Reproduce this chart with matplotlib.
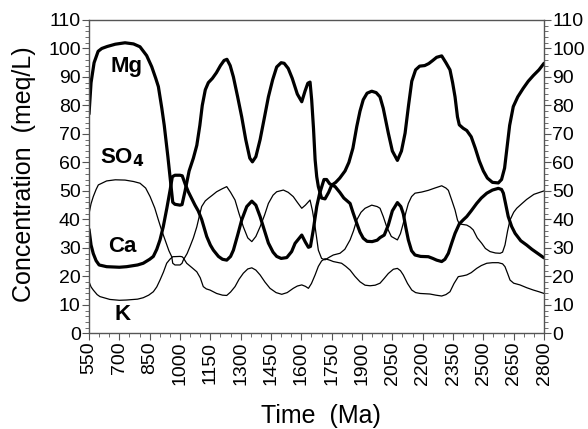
import matplotlib
matplotlib.use("Agg")
import matplotlib.pyplot as plt
from matplotlib.ticker import MultipleLocator

# ─────────────────────────────────────────────────────────────────────────────
#  Data
# ─────────────────────────────────────────────────────────────────────────────

mg_t = [550, 560, 575, 595, 613, 640, 680, 728, 770, 802, 835, 860, 880, 893,
        910, 922, 940, 952, 964, 975, 1000, 1010, 1025, 1045, 1066, 1083, 1098,
        1110, 1125, 1140, 1160, 1180, 1200, 1218, 1232, 1248, 1264, 1285, 1305,
        1325, 1345, 1358, 1375, 1396, 1418, 1437, 1458, 1478, 1500, 1515, 1535,
        1555, 1580, 1602, 1618, 1632, 1643, 1651, 1660, 1668, 1676, 1684, 1700,
        1717, 1735, 1750, 1770, 1790, 1816, 1835, 1855, 1874, 1890, 1906, 1925,
        1948, 1970, 1989, 2005, 2030, 2050, 2075, 2095, 2113, 2130, 2146, 2165,
        2185, 2210, 2230, 2250, 2269, 2294, 2315, 2335, 2348, 2360, 2372, 2381,
        2400, 2418, 2440, 2460, 2480, 2500, 2520, 2545, 2574, 2590, 2605, 2615,
        2630, 2648, 2670, 2697, 2722, 2747, 2775, 2800]
mg = [77, 88, 95, 99, 100, 100.7, 101.5, 102, 101.6, 100.6, 97.5, 93.6, 89.5,
      86.6, 79, 73, 62, 54, 46, 45.3, 45, 45.2, 50, 57, 61.5, 66, 73, 80, 85.5,
      88, 89.5, 91.5, 94, 95.8, 96.2, 94, 90, 83, 76, 68, 61.5, 60.2, 62, 68,
      76, 83, 89, 93.5, 95, 94.8, 93, 89.5, 84, 81.3, 85, 87.8, 88.2, 82, 72,
      61, 55, 51.5, 47.5, 47.2, 49.5, 52, 53, 54.5, 57, 60, 65, 72.6, 78, 82,
      84.3, 85, 84.5, 83, 79, 70.3, 64, 60.7, 64, 70.3, 80, 88.5, 92.5, 93.8,
      94, 94.7, 95.8, 96.9, 97.4, 95, 92.5, 88, 83, 76, 73.2, 72, 71.2, 69, 65,
      60.5, 57, 54.5, 53, 52.8, 54, 58, 64, 73, 79.6, 83, 86, 88.5, 90.5, 92.5,
      94.8]

ca_t = [550, 560, 571, 585, 600, 637, 700, 736, 790, 818, 850, 868, 885, 901,
        917, 935, 951, 962, 975, 1000, 1011, 1025, 1041, 1074, 1090, 1107, 1132,
        1150, 1165, 1190, 1210, 1231, 1250, 1264, 1285, 1305, 1330, 1355, 1375,
        1396, 1418, 1437, 1460, 1478, 1500, 1528, 1552, 1569, 1602, 1620, 1635,
        1645, 1659, 1676, 1690, 1701, 1712, 1725, 1740, 1767, 1790, 1810, 1841,
        1855, 1874, 1890, 1906, 1925, 1950, 1975, 1989, 2010, 2030, 2050, 2075,
        2092, 2104, 2117, 2129, 2145, 2162, 2190, 2228, 2250, 2269, 2294, 2310,
        2327, 2345, 2360, 2381, 2400, 2418, 2440, 2467, 2490, 2517, 2545, 2574,
        2590, 2599, 2610, 2623, 2640, 2657, 2685, 2714, 2740, 2770, 2800]
ca = [36.5, 31, 28, 25.5, 24, 23.4, 23.2, 23.4, 24, 24.6, 26, 27, 29.5, 32.8,
      37.4, 44, 50.3, 55, 55.5, 55.5, 55.3, 52.5, 49.7, 45, 43, 40, 34, 31,
      29.2, 27, 26, 25.7, 27, 29.2, 34.5, 39.8, 44.5, 46.4, 45, 41, 36, 31.7,
      28.5, 27, 26.3, 26.6, 28.7, 31.6, 34.5, 32, 30.2, 30.5, 36.3, 44.5, 49,
      51.5, 54, 54, 52.5, 51.5, 49.5, 47.5, 45.6, 42.5, 38.6, 35.5, 33.4, 32.3,
      32.2, 32.7, 33.6, 34.5, 38, 43, 45.9, 44.5, 42, 37, 32.8, 29, 27.5, 27,
      26.9, 26.3, 25.7, 25.2, 26, 28.1, 32, 35.1, 38.4, 39.8, 41, 43, 45.6,
      47.5, 49.2, 50.3, 50.9, 50.5, 49.2, 45.5, 41, 37.5, 35.1, 32.5, 31, 29.5,
      28, 26.5]

so4_t = [550, 560, 571, 585, 596, 637, 680, 728, 770, 802, 830, 852, 875, 893,
         910, 926, 945, 959, 964, 975, 1000, 1010, 1016, 1035, 1049, 1066, 1083,
         1095, 1107, 1125, 1140, 1160, 1181, 1210, 1231, 1250, 1272, 1292, 1313,
         1335, 1355, 1375, 1396, 1418, 1437, 1460, 1478, 1511, 1535, 1560, 1580,
         1602, 1620, 1643, 1655, 1668, 1684, 1700, 1717, 1740, 1758, 1791, 1815,
         1841, 1858, 1874, 1895, 1915, 1948, 1975, 1989, 2005, 2022, 2045, 2075,
         2090, 2104, 2117, 2129, 2145, 2162, 2195, 2228, 2260, 2294, 2315, 2327,
         2345, 2360, 2372, 2381, 2400, 2418, 2435, 2450, 2470, 2492, 2510, 2533,
         2560, 2583, 2595, 2607, 2620, 2632, 2650, 2665, 2690, 2714, 2750, 2800]
so4 = [42, 45.5, 48, 50.5, 52.1, 53.5, 53.9, 53.8, 53.3, 52.7, 51, 48, 44,
       39.8, 36, 32.8, 29, 26.9, 24.6, 24, 24, 24.6, 25.7, 28, 30.4, 33.5, 37.4,
       41, 44.5, 46.5, 47.4, 48.5, 49.7, 50.8, 51.5, 49.5, 46.8, 42, 37.4, 33.5,
       32.2, 34, 37.4, 41.5, 45.6, 48.5, 49.7, 50.3, 49.5, 48, 46, 43.9, 45,
       46.8, 43, 37.4, 29.2, 26.3, 25.8, 26.8, 27.5, 28.1, 29.5, 32.8, 36, 39.8,
       42.5, 43.9, 45, 44.5, 43.9, 41, 37.4, 34, 32.8, 35, 38.6, 42.5, 45.6, 48,
       49.2, 49.6, 50.2, 51, 51.8, 51, 50.2, 46.5, 43.3, 39.8, 38.4, 38.2, 38,
       37.3, 36.3, 33.5, 31.6, 29.8, 28.7, 28.2, 28.1, 28.5, 31, 36, 39.8, 42.5,
       43.9, 45.5, 47, 48.8, 50]

k_t = [550, 560, 571, 590, 604, 653, 700, 736, 790, 818, 845, 868, 885, 901,
       918, 934, 950, 964, 1000, 1010, 1016, 1033, 1060, 1083, 1100, 1115, 1130,
       1148, 1181, 1210, 1231, 1250, 1272, 1292, 1313, 1335, 1355, 1375, 1396,
       1420, 1445, 1475, 1503, 1530, 1560, 1580, 1602, 1620, 1635, 1650, 1668,
       1684, 1700, 1717, 1740, 1758, 1799, 1820, 1841, 1865, 1890, 1915, 1940,
       1965, 1989, 2010, 2030, 2055, 2075, 2090, 2104, 2125, 2146, 2165, 2187,
       2236, 2265, 2294, 2315, 2335, 2355, 2376, 2400, 2418, 2440, 2467, 2490,
       2517, 2545, 2574, 2595, 2607, 2620, 2632, 2650, 2681, 2715, 2747, 2775,
       2800]
k = [18.1, 16.3, 15.2, 13.6, 12.9, 11.9, 11.6, 11.7, 12, 12.5, 13.4, 14.6,
     16.3, 18.7, 21.5, 24.6, 26, 26.9, 27, 26.9, 26.5, 24.6, 23, 21.6, 19.5,
     16.4, 15.6, 15.2, 14, 13.4, 13.3, 14.5, 16.4, 19, 21.1, 22.6, 23, 22.2,
     20.5, 18, 15.8, 14.3, 13.7, 14.3, 15.8, 16.6, 17, 16.5, 15.8, 17.5, 20.5,
     23.5, 25.4, 26.2, 25.7, 25.2, 24.6, 23.5, 22.2, 20, 18.1, 16.9, 16.7, 16.9,
     17.6, 19.3, 21, 22.5, 22.8, 22, 20.5, 17.5, 15.2, 14.3, 14, 13.8, 13.4,
     13.1, 13.6, 14.6, 17.5, 19.9, 20.2, 20.5, 21.3, 22.8, 23.8, 24.6, 24.8,
     24.8, 24.4, 23.4, 21, 18.7, 17.6, 17, 16, 15.2, 14.6, 14]

x_ticks = list(range(550, 2801, 150))
y_ticks = list(range(0, 111, 10))

# ─────────────────────────────────────────────────────────────────────────────
#  Plot
# ─────────────────────────────────────────────────────────────────────────────

plt.rcParams["font.family"] = ["Liberation Sans", "DejaVu Sans"]

fig = plt.figure(figsize=(5.88, 4.29), dpi=100)
ax = fig.add_axes([0.1514, 0.223, 0.7738, 0.7304])

thick = dict(color="black", lw=2.3, solid_joinstyle="round", solid_capstyle="round")
thin = dict(color="black", lw=0.9, solid_joinstyle="round")

ax.plot(mg_t, mg, **thick)
ax.plot(ca_t, ca, **thick)
ax.plot(so4_t, so4, **thin)
ax.plot(k_t, k, **thin)

# curve labels
lab = dict(fontsize=16, fontweight="bold", ha="center", va="center")
ax.text(733, 93.5, "Mg", **lab)
ax.text(713, 61.5, r"SO$_\mathbf{4}$", **lab)
ax.text(716, 30.5, "Ca", **lab)
ax.text(718, 6.5, "K", **lab)

ax.set_xlim(550, 2800)
ax.set_ylim(0, 110)
ax.set_xticks(x_ticks)
ax.set_xticklabels([str(t) for t in x_ticks], rotation=90)
ax.set_yticks(y_ticks)
ax.xaxis.set_minor_locator(MultipleLocator(50))
ax.yaxis.set_minor_locator(MultipleLocator(2))

ax.tick_params(which="both", direction="out", color="#555555",
               left=True, right=True, labelleft=True, labelright=True,
               top=False, labelsize=14, pad=1)
ax.tick_params(which="major", length=5, width=0.8)
ax.tick_params(which="minor", length=3, width=0.6)

for s in ax.spines.values():
    s.set_color("#555555")
    s.set_linewidth(1.0)

ax.set_xlabel("Time  (Ma)", fontsize=18)
ax.xaxis.set_label_coords(0.51, -0.226)
ax.set_ylabel("Concentration  (meq/L)", fontsize=18)
ax.yaxis.set_label_coords(-0.117, 0.507)

fig.savefig("out.png", dpi=100)
